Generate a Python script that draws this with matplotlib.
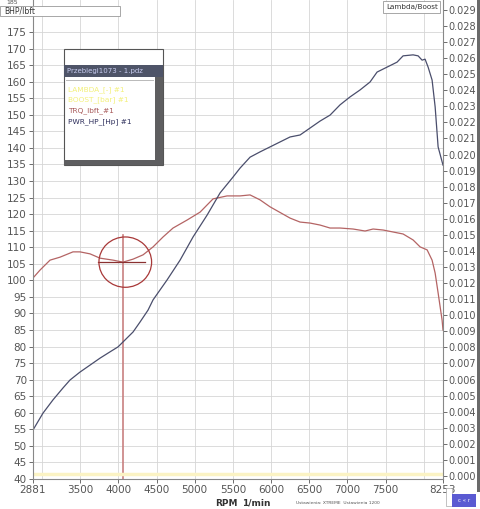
import matplotlib.pyplot as plt
from matplotlib.patches import Rectangle, Ellipse

# torque trace (lbft)
trq_rpm = [2881, 2973, 3104, 3235, 3405, 3497, 3628, 3759, 3930, 4060, 4192, 4323,
           4454, 4585, 4716, 4899, 5070, 5240, 5424, 5594, 5725, 5856, 5987, 6249,
           6380, 6511, 6642, 6773, 6904, 7075, 7232, 7337, 7468, 7599, 7730, 7861,
           7953, 8045, 8110, 8150, 8189, 8241, 8253]
trq_val = [100.7, 103.1, 106.1, 107.0, 108.6, 108.6, 108.0, 106.7, 106.1, 105.5, 106.4, 107.7,
           110.1, 113.1, 115.8, 118.2, 120.6, 124.6, 125.5, 125.5, 125.8, 124.3, 122.2, 118.8,
           117.6, 117.3, 116.7, 115.8, 115.8, 115.5, 114.9, 115.5, 115.2, 114.6, 114.0, 112.2,
           110.1, 109.2, 106.1, 102.2, 96.2, 88.0, 85.0]

# power trace (HP)
pwr_rpm = [2881, 3012, 3143, 3274, 3366, 3497, 3628, 3759, 3890, 3995, 4087, 4192,
           4283, 4388, 4454, 4637, 4808, 4978, 5162, 5332, 5502, 5594, 5725, 5856,
           5987, 6118, 6249, 6380, 6511, 6642, 6773, 6904, 7035, 7166, 7297, 7389,
           7520, 7651, 7730, 7861, 7927, 7979, 8018, 8058, 8110, 8150, 8189, 8253]
pwr_val = [54.8, 59.9, 63.9, 67.5, 69.9, 72.3, 74.4, 76.5, 78.4, 79.9, 82.0, 84.4,
           87.4, 91.0, 94.1, 100.1, 106.1, 113.1, 119.7, 126.4, 131.2, 133.9, 137.2, 138.8,
           140.3, 141.8, 143.3, 143.9, 146.0, 148.1, 149.9, 153.0, 155.4, 157.5, 159.9, 162.9,
           164.4, 165.9, 167.8, 168.1, 167.8, 166.5, 166.8, 164.4, 160.5, 152.4, 140.3, 134.8]

x_ticks = [2881, 3500, 4000, 4500, 5000, 5500, 6000, 6500, 7000, 7500, 8253]
x_grid = [3000, 3500, 4000, 4500, 5000, 5500, 6000, 6500, 7000, 7500, 8000]
left_ticks = list(range(40, 180, 5))
right_ticks = [i / 1000 for i in range(0, 30)]

legend_items = ["LAMBDA_[-] #1", "BOOST_[bar] #1", "TRQ_lbft_#1", "PWR_HP_[Hp] #1"]
legend_colors = ["#f3f07a", "#f3f07a", "#a85a5a", "#2e2f5c"]

marker_rpm = 4060
marker_val = 105.5

narrow = ["Liberation Sans Narrow", "DejaVu Sans"]

W, H = 480, 509
fig = plt.figure(figsize=(W / 100, H / 100), dpi=100)
fig.patch.set_facecolor("white")

ax = fig.add_axes([33 / W, 1 - 479 / H, 410 / W, 479 / H])
ax.set_xlim(2881, 8253)
ax.set_ylim(40, 40 + 479 / 3.311)
ax2 = ax.twinx()
ax2.set_ylim(-3 / 15970, 473 / 15970)

tick_col = "#555555"
ax.set_xticks(x_ticks)
ax.set_xticklabels([str(t) for t in x_ticks])
ax.set_yticks(left_ticks)
ax.tick_params(axis="both", labelsize=7.5, colors=tick_col, length=3, width=0.6, pad=1.5)
ax2.set_yticks(right_ticks)
ax2.set_yticklabels(["%.3f" % t for t in right_ticks])
ax2.tick_params(axis="y", labelsize=7, colors=tick_col, length=3, width=0.6, pad=1)
for lab in ax.get_xticklabels() + ax.get_yticklabels() + ax2.get_yticklabels():
    lab.set_family(narrow)

ax.spines["top"].set_visible(False)
ax2.spines["top"].set_visible(False)
for s in ["left", "bottom", "right"]:
    ax.spines[s].set_color("#bbbbbb")
    ax2.spines[s].set_color("#888888")
    ax.spines[s].set_linewidth(0.6)
    ax2.spines[s].set_linewidth(0.8)

# grid
for g in x_grid:
    ax.axvline(g, color="#d6d6d6", lw=0.6, zorder=0)
for g in left_ticks[1:]:
    ax.axhline(g, color="#d6d6d6", lw=0.6, zorder=0)

# pale yellow trace at bottom
ax2.axhline(0.0001, color="#fbf3c4", lw=2.5, zorder=1)

# curves
ax.plot(trq_rpm, trq_val, color="#b46464", lw=0.9, zorder=3)
ax.plot(pwr_rpm, pwr_val, color="#4a4e6c", lw=0.9, zorder=3)

# cursor marker
ax.plot([marker_rpm, marker_rpm], [40, 113.7], color="#c88080", lw=1.2, zorder=2)
ax.plot([marker_rpm - 330, marker_rpm + 290], [marker_val, marker_val], color="#8a3030", lw=0.9, zorder=4)
ax.add_patch(Ellipse((marker_rpm + 30, marker_val), 690, 15.2, fill=False,
                     edgecolor="#a83838", lw=0.9, zorder=4))

# axis caption
fig.text(226 / W, 1 - 503 / H, "RPM", fontsize=6.5, fontweight="bold", color="#333333", ha="center", va="center")
fig.text(256 / W, 1 - 503 / H, "1/min", fontsize=6.5, fontweight="bold", color="#333333", ha="center", va="center")
fig.text(296 / W, 1 - 503 / H, "Ustawienia: XTREME  Ustawienia 1200", fontsize=3.2,
         color="#555555", ha="left", va="center")
fig.text(12 / W, 1.0, "185", fontsize=4.5, color=tick_col, ha="center", va="top", family=narrow)


def px_rect(x0, y0, x1, y1, **kw):
    fig.patches.append(Rectangle((x0 / W, 1 - y1 / H), (x1 - x0) / W, (y1 - y0) / H,
                                 transform=fig.transFigure, figure=fig, **kw))


# top labels
px_rect(0, 6, 120, 16, facecolor="white", edgecolor="#999999", lw=0.6, zorder=5)
fig.text(4 / W, 1 - 11 / H, "BHP/lbft", fontsize=5.5, color="#333333", va="center", zorder=6)
px_rect(383, 1, 440, 13, facecolor="white", edgecolor="#999999", lw=0.6, zorder=5)
fig.text(386 / W, 1 - 7 / H, "Lambda/Boost", fontsize=5.2, color="#333333", va="center", zorder=6)

# legend window
px_rect(64, 49, 163, 165, facecolor="white", edgecolor="#555555", lw=0.8, zorder=5)
px_rect(64, 65, 163, 77, facecolor="#4e5468", edgecolor="none", zorder=6)
px_rect(155, 77, 163, 165, facecolor="#5e5e60", edgecolor="none", zorder=6)
px_rect(64, 160, 163, 165, facecolor="#5e5e60", edgecolor="none", zorder=6)
px_rect(66, 80, 154, 81, facecolor="#bbbbbb", edgecolor="none", zorder=6)
fig.text(67 / W, 1 - 71 / H, "Przebiegi1073 - 1.pdz", fontsize=5, color="#c8ccf0", va="center", zorder=7)
for i, (lab, col) in enumerate(zip(legend_items, legend_colors)):
    yy = [90, 100, 111, 122][i]
    fig.text(68 / W, 1 - yy / H, lab, fontsize=5.3, color=col, va="center", zorder=7)

# window frame / button
px_rect(477, 0, 480, 492, facecolor="#6a6a6a", edgecolor="none", zorder=5)
px_rect(446, 488, 452, 506, facecolor="white", edgecolor="#aaaaaa", lw=0.5, zorder=5)
px_rect(452, 494, 476, 507, facecolor="#5a5ad2", edgecolor="none", zorder=5)
fig.text(464 / W, 1 - 500.5 / H, "c « r", fontsize=4, color="white", ha="center", va="center", zorder=6)

fig.savefig("out.png", dpi=100)
